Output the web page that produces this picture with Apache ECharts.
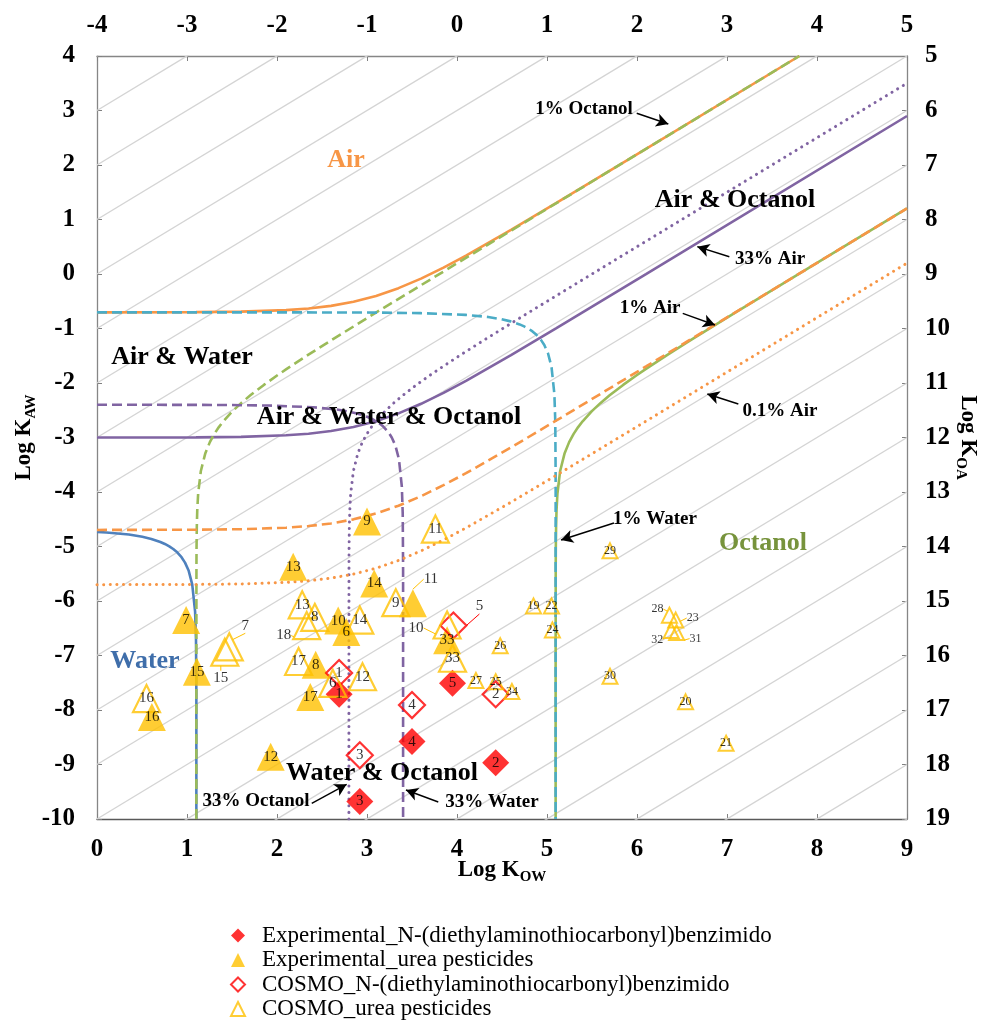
<!DOCTYPE html>
<html><head><meta charset="utf-8">
<script src="https://cdn.jsdelivr.net/npm/echarts@6/dist/echarts.min.js"></script>
<style>html,body{margin:0;padding:0;background:#fff}#c{width:988px;height:1021px}</style>
</head><body><div id="c"></div>
<script>
const FONT = "'Liberation Serif','Times New Roman',serif";

// ---------------- data ----------------
// iso-log KOA reference lines (log KAW = log KOW - log KOA)
const koaGridLines = [-4,-3,-2,-1,0,1,2,3,4,5,6,7,8,9,10,11,12,13,14,15,16,17,18,19];

const expBenzId  = [1, 2, 3, 4, 5];
const expBenzKow = [2.69, 4.43, 2.92, 3.50, 3.95];
const expBenzKaw = [-7.71, -8.97, -9.68, -8.58, -7.51];

const cosmoBenzId  = [1, 2, 3, 4, 5];
const cosmoBenzKow = [2.69, 4.43, 2.92, 3.50, 3.96];
const cosmoBenzKaw = [-7.32, -7.71, -8.83, -7.91, -6.45];

const expUreaId  = [6, 7, 8, 9, 10, 11, 12, 13, 14, 15, 16, 17, 33];
const expUreaKow = [2.77, 0.99, 2.43, 3.00, 2.68, 3.51, 1.93, 2.18, 3.08, 1.11, 0.61, 2.37, 3.89];
const expUreaKaw = [-6.57, -6.35, -7.17, -4.54, -6.36, -6.04, -8.86, -5.37, -5.68, -7.30, -8.13, -7.76, -6.72];

const cosmoUreaId  = [6, 7, 8, 9, 10, 11, 12, 13, 14, 15, 16, 17, 18, 33];
const cosmoUreaKow = [2.62, 1.47, 2.42, 3.32, 3.89, 3.76, 2.95, 2.28, 2.92, 1.42, 0.55, 2.24, 2.33, 3.95];
const cosmoUreaKaw = [-7.51, -6.84, -6.30, -6.03, -6.44, -4.68, -7.39, -6.07, -6.35, -6.94, -7.79, -7.11, -6.45, -7.05];

const cosmoUreaMinorId  = [19, 20, 21, 22, 23, 24, 25, 26, 27, 28, 29, 30, 31, 32, 34];
const cosmoUreaMinorKow = [4.85, 6.54, 6.99, 5.05, 6.43, 5.06, 4.43, 4.48, 4.21, 6.36, 5.70, 5.70, 6.44, 6.38, 4.61];
const cosmoUreaMinorKaw = [-6.09, -7.85, -8.61, -6.09, -6.35, -6.53, -7.48, -6.82, -7.46, -6.26, -5.08, -7.38, -6.58, -6.54, -7.66];

// partitioning boundary curves [logKOW, logKAW]
const air99 = [[0,-0.704],[1.1,-0.700],[1.6,-0.690],[2.1,-0.663],[2.35,-0.633],[2.6,-0.585],[2.85,-0.510],[3.1,-0.403],[3.35,-0.260],[3.6,-0.085],[3.85,0.117],[4.1,0.337],[4.6,0.810],[5.1,1.300],[6.1,2.296],[7.804,4.0]];
const air33 = [[0,-3.001],[1.1,-2.997],[1.6,-2.988],[2.1,-2.960],[2.35,-2.930],[2.6,-2.882],[2.85,-2.807],[3.1,-2.700],[3.35,-2.557],[3.6,-2.382],[3.85,-2.180],[4.1,-1.960],[4.6,-1.487],[5.1,-0.997],[6.1,-0.001],[9,2.899]];
const air1 = [[0,-4.696],[1.1,-4.692],[1.6,-4.683],[2.1,-4.655],[2.35,-4.625],[2.6,-4.577],[2.85,-4.502],[3.1,-4.395],[3.35,-4.252],[3.6,-4.077],[3.85,-3.875],[4.1,-3.655],[4.6,-3.183],[5.1,-2.692],[6.1,-1.696],[9,1.204]];
const air01 = [[0,-5.700],[1.1,-5.696],[1.6,-5.687],[2.1,-5.659],[2.35,-5.629],[2.6,-5.581],[2.85,-5.506],[3.1,-5.399],[3.35,-5.256],[3.6,-5.081],[3.85,-4.879],[4.1,-4.659],[4.6,-4.187],[5.1,-3.696],[6.1,-2.700],[9,0.200]];
const water1 = [[0,-0.704],[2.096,-0.704],[3.096,-0.708],[3.596,-0.718],[4.096,-0.750],[4.346,-0.789],[4.496,-0.830],[4.596,-0.869],[4.696,-0.925],[4.746,-0.961],[4.795,-1.005],[4.839,-1.054],[4.876,-1.104],[4.931,-1.204],[4.970,-1.304],[5.011,-1.454],[5.050,-1.704],[5.082,-2.204],[5.092,-2.704],[5.096,-3.704],[5.096,-10]];
const water33 = [[0,-2.399],[0.401,-2.399],[1.401,-2.403],[1.901,-2.413],[2.401,-2.445],[2.651,-2.484],[2.801,-2.525],[2.901,-2.564],[3.001,-2.620],[3.051,-2.656],[3.100,-2.700],[3.144,-2.749],[3.181,-2.799],[3.236,-2.899],[3.275,-2.999],[3.316,-3.149],[3.355,-3.399],[3.387,-3.899],[3.397,-4.399],[3.401,-5.399],[3.401,-10]];
const water99 = [[0,-4.732],[0.104,-4.742],[0.354,-4.781],[0.504,-4.822],[0.604,-4.861],[0.704,-4.917],[0.754,-4.953],[0.803,-4.997],[0.847,-5.046],[0.884,-5.096],[0.939,-5.196],[0.978,-5.296],[1.019,-5.446],[1.058,-5.696],[1.090,-6.196],[1.100,-6.696],[1.104,-7.696],[1.104,-10]];
const oct1 = [[1.104,-10],[1.104,-7.338],[1.105,-5.337],[1.106,-5.036],[1.109,-4.636],[1.114,-4.333],[1.124,-4.027],[1.154,-3.614],[1.204,-3.287],[1.254,-3.085],[1.304,-2.933],[1.354,-2.809],[1.404,-2.702],[1.504,-2.520],[1.604,-2.365],[1.704,-2.226],[1.854,-2.035],[2.004,-1.858],[2.104,-1.746],[2.354,-1.475],[2.604,-1.214],[3.104,-0.704],[4.104,0.300],[7.804,4.0]];
const oct33 = [[2.799,-10],[2.799,-7.338],[2.800,-5.337],[2.801,-5.036],[2.804,-4.636],[2.809,-4.333],[2.819,-4.027],[2.849,-3.614],[2.899,-3.287],[2.949,-3.085],[2.999,-2.933],[3.049,-2.809],[3.099,-2.702],[3.199,-2.520],[3.299,-2.365],[3.399,-2.226],[3.549,-2.035],[3.699,-1.858],[3.799,-1.746],[4.049,-1.475],[4.299,-1.214],[4.799,-0.704],[5.799,0.300],[9,3.501]];
const oct99 = [[5.096,-10],[5.096,-7.338],[5.097,-5.337],[5.098,-5.036],[5.101,-4.636],[5.106,-4.333],[5.116,-4.027],[5.146,-3.614],[5.196,-3.287],[5.246,-3.085],[5.296,-2.933],[5.346,-2.809],[5.396,-2.702],[5.496,-2.520],[5.596,-2.365],[5.696,-2.226],[5.846,-2.035],[5.996,-1.858],[6.096,-1.746],[6.346,-1.475],[6.596,-1.214],[7.096,-0.704],[8.096,0.300],[9,1.204]];

// ---------------- styling / annotations ----------------
const C_OR = '#F79646', C_GR = '#9BBB59', C_PU = '#8064A2', C_BL = '#4F81BD', C_TE = '#4BACC6', C_Y = '#FFC000';

const arrows = [
  [[5.997, 2.949], [6.348, 2.752]],
  [[7.026, 0.317], [6.670, 0.501]],
  [[6.508, -0.721], [6.867, -0.936]],
  [[7.126, -2.385], [6.781, -2.202]],
  [[5.744, -4.569], [5.156, -4.881]],
  [[2.386, -9.712], [2.774, -9.363]],
  [[3.792, -9.688], [3.433, -9.468]]
];
const regionTexts = [
  ['Air', 346, 160, C_OR], ['Air & Octanol', 735, 200, '#000'], ['Air & Water', 182, 357, '#000'],
  ['Air & Water & Octanol', 389, 417, '#000'], ['Water', 145, 661, '#3F6EAA'],
  ['Water & Octanol', 382, 773, '#000'], ['Octanol', 763, 543, '#77933C']
];
const noteTexts = [
  ['1% Octanol', 584, 109], ['33% Air', 770, 259], ['1% Air', 650, 308], ['0.1% Air', 780, 411],
  ['1% Water', 655, 519], ['33% Octanol', 256, 801], ['33% Water', 492, 802]
];

const chart = echarts.init(document.getElementById('c'), null, {renderer: 'canvas'});

function lineSeries(data, color, type, width, z) {
  let lt = type;
  let cap = 'butt';
  if (type === 'dashed') lt = [10, 5];
  if (type === 'dotted') { lt = [0.1, 6.5]; cap = 'round'; }
  return {
    type: 'line', data, symbol: 'none', z: z || 3, silent: true, animation: false,
    lineStyle: {color, width: width || 2.6, type: lt, cap}, clip: true
  };
}

function scatterSeries(name, id, ids, xs, ys, o) {
  const shifts = o.shifts || {};
  return {
    type: 'scatter', name, id, z: 6, symbol: o.symbol, symbolSize: o.size,
    itemStyle: o.itemStyle, animation: false,
    data: ids.map((n, i) => ({value: [xs[i], ys[i], n], labelLine: {show: !!shifts[n]}})),
    label: {show: true, position: 'inside', formatter: p => String(p.value[2]),
      fontFamily: FONT, fontSize: o.fontSize, color: '#000'},
    labelLine: {show: false, lineStyle: {color: o.lineColor, width: 1}},
    labelLayout: p => { const s = shifts[ids[p.dataIndex]]; return s ? {dx: s[0], dy: s[1]} : {}; },
    emphasis: {disabled: true}
  };
}

const series = [];
koaGridLines.forEach(c => {
  series.push({type: 'line', data: [[0, -c], [9, 9 - c]], symbol: 'none', z: 1, silent: true,
    animation: false, clip: true, lineStyle: {color: '#D4D4D4', width: 1.4}});
});
series.push(lineSeries(air99, C_OR, 'solid'));
series.push(lineSeries(air33, C_PU, 'solid'));
series.push(lineSeries(water99, C_BL, 'solid'));
series.push(lineSeries(oct99, C_GR, 'solid'));
series.push(lineSeries(oct1, C_GR, 'dashed'));
series.push(lineSeries(water1, C_TE, 'dashed'));
series.push(lineSeries(air1, C_OR, 'dashed'));
series.push(lineSeries(water33, C_PU, 'dashed'));
series.push(lineSeries(oct33, C_PU, 'dotted', 3));
const dotted = lineSeries(air01, C_OR, 'dotted', 3);
dotted.markLine = {
  silent: true, symbol: ['none', 'arrow'], symbolSize: [10, 12], animation: false,
  label: {show: false}, lineStyle: {color: '#000', width: 1.4, type: 'solid'},
  data: arrows.map(a => [{coord: a[0]}, {coord: a[1]}])
};
series.push(dotted);

const N_BENZ = 'Experimental_N-(diethylaminothiocarbonyl)benzimido';
const N_UREA = 'Experimental_urea pesticides';
const C_BENZ = 'COSMO_N-(diethylaminothiocarbonyl)benzimido';
const C_UREA = 'COSMO_urea pesticides';
const clear = 'rgba(255,255,255,0)';

series.push(scatterSeries(N_BENZ, 'eb', expBenzId, expBenzKow, expBenzKaw,
  {symbol: 'diamond', size: 27, itemStyle: {color: '#FF0000'}, fontSize: 15}));
series.push(scatterSeries(N_UREA, 'eu', expUreaId, expUreaKow, expUreaKaw,
  {symbol: 'triangle', size: 28, itemStyle: {color: C_Y}, fontSize: 15, lineColor: C_Y,
   shifts: {11: [18, -24]}}));
series.push(scatterSeries(C_BENZ, 'cb', cosmoBenzId, cosmoBenzKow, cosmoBenzKaw,
  {symbol: 'diamond', size: 26, itemStyle: {color: clear, borderColor: '#FF0000', borderWidth: 2.2}, fontSize: 15,
   lineColor: '#FF0000', shifts: {5: [26, -19]}}));
series.push(scatterSeries(C_UREA, 'cu', cosmoUreaId, cosmoUreaKow, cosmoUreaKaw,
  {symbol: 'triangle', size: 27, itemStyle: {color: clear, borderColor: C_Y, borderWidth: 2.2}, fontSize: 15,
   lineColor: C_Y, shifts: {7: [16, -21], 15: [-4, 26], 18: [-23, 10], 10: [-31, 3]}}));
series.push(scatterSeries(C_UREA, 'cu2', cosmoUreaMinorId, cosmoUreaMinorKow, cosmoUreaMinorKaw,
  {symbol: 'triangle', size: 15, itemStyle: {color: clear, borderColor: C_Y, borderWidth: 2}, fontSize: 12,
   lineColor: C_Y, shifts: {28: [-12, -6], 23: [17, -2], 32: [-14, 9], 31: [19, 6]}}));

const graphics = [];
regionTexts.forEach(t => graphics.push({type: 'text', x: t[1], y: t[2], z: 50, silent: true,
  style: {text: t[0], fill: t[3], font: 'bold 26px ' + FONT, textAlign: 'center', textVerticalAlign: 'middle',
    align: 'center', verticalAlign: 'middle'}}));
noteTexts.forEach(t => graphics.push({type: 'text', x: t[1], y: t[2], z: 50, silent: true,
  style: {text: t[0], fill: '#000', font: 'bold 19px ' + FONT, textAlign: 'center', textVerticalAlign: 'middle',
    align: 'center', verticalAlign: 'middle'}}));

const axisLabel = {fontFamily: FONT, fontWeight: 'bold', fontSize: 25, color: '#000'};
const nameStyle = () => ({
  fontFamily: FONT, fontWeight: 'bold', fontSize: 23, color: '#000',
  rich: {
    a: {fontFamily: FONT, fontWeight: 'bold', fontSize: 23, color: '#000', lineHeight: 30},
    b: {fontFamily: FONT, fontWeight: 'bold', fontSize: 15, color: '#000', lineHeight: 12, verticalAlign: 'bottom'}
  }
});
const line = (color) => ({show: true, onZero: false, lineStyle: {color, width: 1.3}});
const tick = {show: true, inside: true, length: 5, lineStyle: {color: '#808080'}};

chart.setOption({
  animation: false,
  backgroundColor: '#fff',
  grid: {left: 97, top: 56, width: 810, height: 763, containLabel: false, outerBoundsMode: 'none'},
  xAxis: [
    {type: 'value', min: 0, max: 9, interval: 1, position: 'bottom',
     axisLine: line('#595959'), axisTick: tick,
     axisLabel: Object.assign({margin: 18}, axisLabel), splitLine: {show: false},
     name: '{a|Log K}{b|OW}', nameLocation: 'middle', nameGap: 36, nameMoveOverlap: false,
     nameTextStyle: nameStyle()},
    {type: 'value', min: -4, max: 5, interval: 1, position: 'top',
     axisLine: line('#868686'), axisTick: tick,
     axisLabel: Object.assign({margin: 18}, axisLabel), splitLine: {show: false}}
  ],
  yAxis: [
    {type: 'value', min: -10, max: 4, interval: 1, position: 'left',
     axisLine: line('#868686'), axisTick: tick,
     axisLabel: Object.assign({margin: 22}, axisLabel), splitLine: {show: false},
     name: '{a|Log K}{b|AW}', nameLocation: 'middle', nameGap: 58, nameRotate: 90, nameMoveOverlap: false,
     nameTextStyle: nameStyle()},
    {type: 'value', min: 5, max: 19, interval: 1, position: 'right', inverse: true,
     axisLine: line('#868686'), axisTick: tick,
     axisLabel: Object.assign({margin: 18}, axisLabel), splitLine: {show: false},
     name: '{a|Log K}{b|OA}', nameLocation: 'middle', nameGap: 46, nameRotate: -90, nameMoveOverlap: false,
     nameTextStyle: nameStyle()}
  ],
  legend: {
    data: [N_BENZ, N_UREA, C_BENZ, C_UREA], orient: 'vertical', left: 230, top: 924, padding: 0,
    height: 97, itemWidth: 14, itemHeight: 14, itemGap: 1.5, selectedMode: false,
    textStyle: {fontFamily: FONT, fontSize: 23, lineHeight: 23, color: '#000', padding: [0, 0, 0, 12]}
  },
  graphic: {elements: graphics},
  series
});
</script></body></html>
